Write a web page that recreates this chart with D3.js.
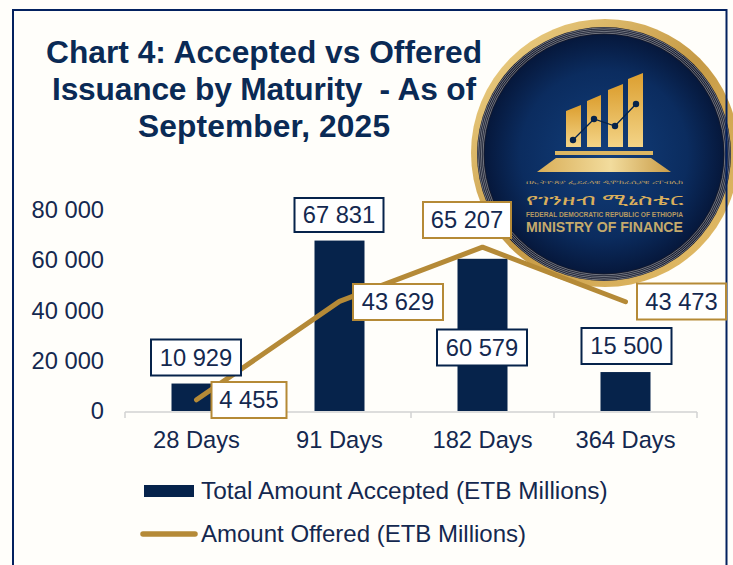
<!DOCTYPE html>
<html><head><meta charset="utf-8">
<script src="https://cdn.jsdelivr.net/npm/d3@7"></script>
<style>html,body{margin:0;padding:0;background:#fffefa;overflow:hidden}svg{display:block}text{font-family:"Liberation Sans",Arial,sans-serif;white-space:pre}</style>
</head><body><svg id="c" width="733" height="565"></svg>
<script>
const categories=["28 Days","91 Days","182 Days","364 Days"];
const accepted=[10929,67831,60579,15500];
const offered=[4455,43629,65207,43473];
const yTicks=[0,20000,40000,60000,80000];
const titleLines=["Chart 4: Accepted vs Offered","Issuance by Maturity  - As of","September, 2025"];
const titleWidths=[436,424,252];
const seriesNames=["Total Amount Accepted (ETB Millions)","Amount Offered (ETB Millions)"];
const legendSizes=[24.4,24];
const navy="#06234b",gold="#b58a37",ink="#14284f",frame="#03215f";
const fmt=v=>String(v).replace(/\B(?=(\d{3})+$)/g," ");
const svg=d3.select("#c");
const defs=svg.append("defs");
const rg=defs.append("radialGradient").attr("id","disc");
rg.append("stop").attr("offset","0").attr("stop-color","#123f7c");
rg.append("stop").attr("offset","0.7").attr("stop-color","#0b2c5f");
rg.append("stop").attr("offset","1").attr("stop-color","#06183c");
const gg=defs.append("linearGradient").attr("id","goldg").attr("x1",0).attr("x2",1).attr("y1",0).attr("y2",1);
gg.append("stop").attr("offset","0").attr("stop-color","#f3d88f");
gg.append("stop").attr("offset","0.5").attr("stop-color","#c69a45");
gg.append("stop").attr("offset","1").attr("stop-color","#e8c36f");
const tg=defs.append("linearGradient").attr("id","trap").attr("x1",0).attr("x2",1).attr("y1",0).attr("y2",0);
tg.append("stop").attr("offset","0").attr("stop-color","#d9ae58");
tg.append("stop").attr("offset","0.55").attr("stop-color","#f2dc9d");
tg.append("stop").attr("offset","1").attr("stop-color","#c99c48");
const bg=defs.append("linearGradient").attr("id","barg").attr("x1",0).attr("x2",0).attr("y1",0).attr("y2",1);
bg.append("stop").attr("offset","0").attr("stop-color","#dc9f30");
bg.append("stop").attr("offset","1").attr("stop-color","#f3d487");

const x=d3.scaleBand().domain(categories).range([125,697]);
const y=d3.scaleLinear().domain([0,80000]).range([411,210]);
const cx=c=>x(c)+x.bandwidth()/2;
const barW=50;

svg.append("g").selectAll("text").data(titleLines).join("text")
 .attr("x",264).attr("y",(d,i)=>63+i*37).attr("text-anchor","middle").attr("font-size",31.7).attr("font-weight","bold").attr("fill","#0a2a55").attr("textLength",(d,i)=>titleWidths[i]).text(d=>d);

svg.append("g").selectAll("text").data(yTicks).join("text")
 .attr("x",104).attr("y",d=>y(d)+8).attr("text-anchor","end").attr("font-size",23.7).attr("fill",ink).text(fmt);

svg.append("g").selectAll("rect").data(categories).join("rect")
 .attr("x",d=>cx(d)-barW/2).attr("width",barW).attr("y",(d,i)=>y(accepted[i])).attr("height",(d,i)=>y(0)-y(accepted[i])).attr("fill",navy);

const ax=svg.append("g").attr("stroke","#d2d2d2").attr("stroke-width",1.5);
ax.append("line").attr("x1",125).attr("x2",697).attr("y1",y(0)+1).attr("y2",y(0)+1);
ax.selectAll("line.t").data(d3.range(categories.length+1)).join("line").attr("class","t")
 .attr("x1",i=>125+i*x.step()).attr("x2",i=>125+i*x.step()).attr("y1",y(0)+1).attr("y2",y(0)+7);

svg.append("g").selectAll("text").data(categories).join("text")
 .attr("x",cx).attr("y",447.5).attr("text-anchor","middle").attr("font-size",23.7).attr("fill",ink).text(d=>d);

// logo
const logo=svg.append("g").attr("transform","translate(602,150)");
logo.append("circle").attr("cx",3).attr("cy",3).attr("r",134).attr("fill","url(#goldg)");
logo.append("circle").attr("cx",2).attr("cy",4).attr("r",127).attr("fill","#14192c");
[126,124.3,122.6,120.9].forEach(r=>logo.append("circle").attr("cx",2).attr("cy",4).attr("r",r).attr("fill","none").attr("stroke","#9a9ca3").attr("stroke-width",0.7));
logo.append("circle").attr("cx",2).attr("cy",4).attr("r",119.5).attr("fill","url(#disc)");
const bars=[[-36,-45,-21],[-15,-55,-1],[6,-66,21],[26,-77,41]];
logo.selectAll("path.b").data(bars).join("path").attr("class","b")
 .attr("d",d=>`M${d[0]},${d[1]+6}L${d[2]},${d[1]}V-3H${d[0]}Z`).attr("fill","url(#barg)");
const pts=[[-29,-10],[-8,-31],[13,-24],[34,-46]];
logo.append("path").attr("d",d3.line()(pts)).attr("fill","none").attr("stroke",navy).attr("stroke-width",1.3);
logo.selectAll("circle.p").data(pts).join("circle").attr("class","p").attr("cx",d=>d[0]).attr("cy",d=>d[1]).attr("r",3.2).attr("fill",navy);
logo.append("rect").attr("x",-47).attr("y",1).attr("width",98).attr("height",4).attr("fill","#dcb662");
logo.append("path").attr("d","M-46,8H49L69,22H-65Z").attr("fill","url(#trap)");
const lt=(yy,size,len,fill,weight,t,fam)=>{const e=logo.append("text").attr("x",2.5).attr("y",yy).attr("text-anchor","middle").attr("font-size",size).attr("fill",fill).attr("font-weight",weight).attr("textLength",len).attr("lengthAdjust","spacingAndGlyphs").text(t);if(fam)e.style("font-family",fam);};
lt(34,5.5,157,"#b69a63","normal","በኢትዮጵያ ፌደራላዊ ዲሞክራሲያዊ ሪፐብሊክ","'Noto Sans','DejaVu Sans',sans-serif");
lt(55,15,157,"#d9ae5c","normal","የገንዘብ ሚኒስቴር","'Noto Sans','DejaVu Sans',sans-serif");
lt(67,6.8,157,"#b69a63","bold","FEDERAL DEMOCRATIC REPUBLIC OF ETHIOPIA");
lt(81.5,15.5,157,"#c4aa6c","bold","MINISTRY OF FINANCE");

// frame
svg.append("rect").attr("x",13).attr("y",10).attr("width",713.5).attr("height",570).attr("fill","none").attr("stroke",frame).attr("stroke-width",2);

// line
const line=d3.line().x((d,i)=>cx(categories[i])).y(d=>y(d));
svg.append("path").attr("d",line(offered)).attr("fill","none").attr("stroke",gold).attr("stroke-width",5).attr("stroke-linecap","round").attr("stroke-linejoin","round");

// labels
function box(cxp,cyp,w,h,t,col){
 const g=svg.append("g");
 g.append("rect").attr("x",cxp-w/2).attr("y",cyp-h/2).attr("width",w).attr("height",h).attr("fill","#fff").attr("stroke",col).attr("stroke-width",2);
 g.append("text").attr("x",cxp).attr("y",cyp+8.2).attr("text-anchor","middle").attr("font-size",23.7).attr("fill",ink).text(t);
}
const acceptedBox=[[196,357.5,90,36],[339,215,89,34],[482,347.5,90,36],[626.5,346,90,36]];
const offeredBox=[[249,400,75,36],[398,302,90,36],[467,220,88,36],[681.5,301.5,89,36]];
acceptedBox.forEach((b,i)=>box(b[0],b[1],b[2],b[3],fmt(accepted[i]),navy));
offeredBox.forEach((b,i)=>box(b[0],b[1],b[2],b[3],fmt(offered[i]),gold));

// legend
svg.append("rect").attr("x",144).attr("y",485).attr("width",50).attr("height",12).attr("fill",navy);
svg.append("line").attr("x1",143).attr("x2",195).attr("y1",534).attr("y2",534).attr("stroke",gold).attr("stroke-width",5.5).attr("stroke-linecap","round");
svg.append("g").selectAll("text").data(seriesNames).join("text").attr("x",201).attr("y",(d,i)=>498.5+i*43.5).attr("font-size",(d,i)=>legendSizes[i]).attr("fill",ink).text(d=>d);
</script></body></html>
